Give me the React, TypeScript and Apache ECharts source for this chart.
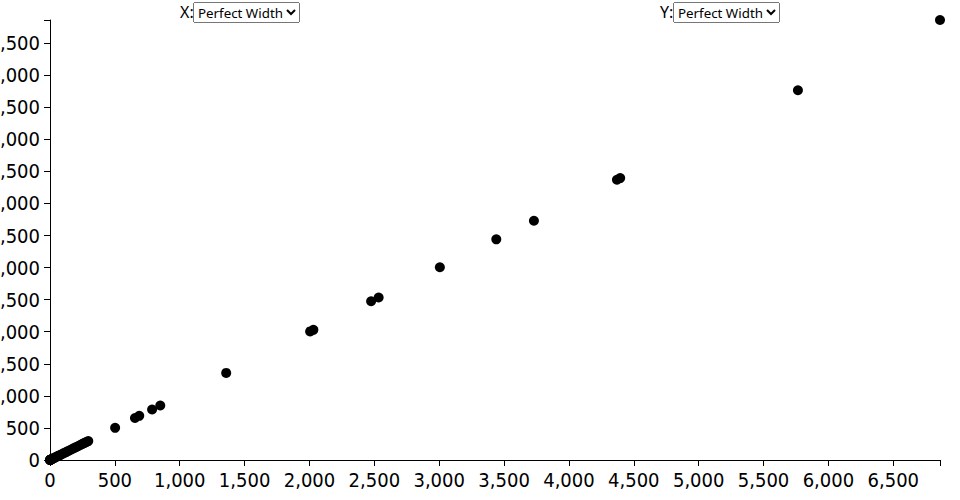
import React, { useEffect, useRef } from "react";
import * as echarts from "echarts";

// Field shown on both axes
const xField = "Perfect Width";
const yField = "Perfect Width";

// Values of "Perfect Width" per item
const perfectWidth = [
  0, 0, 1, 2, 3, 5, 7, 10, 14, 18, 23, 28, 35, 42, 50, 58, 67, 76, 86, 98,
  110, 124, 138, 152, 168, 184, 200, 215, 230, 245, 258, 270, 282, 295,
  502, 655, 688, 787, 850, 1358, 2005, 2030, 2475, 2533, 3005, 3440, 3730,
  4370, 4395, 5765, 6860,
];

const tickStep = 500;
const axisFont = "DejaVu Sans Condensed";

export default function App() {
  const ref = useRef<HTMLDivElement>(null);

  useEffect(() => {
    if (!ref.current) return;
    const chart = echarts.init(ref.current, null, { renderer: "svg" });
    const maxVal = Math.max(...perfectWidth);
    const fmt = (v: number) =>
      v % tickStep === 0 ? v.toLocaleString("en-US") : "";
    const axisCommon = {
      type: "value" as const,
      min: 0,
      max: maxVal,
      interval: tickStep,
      axisLine: { show: true, onZero: false, lineStyle: { color: "#000", width: 1 } },
      axisTick: { show: true, length: 6, lineStyle: { color: "#000", width: 1 } },
      splitLine: { show: false },
      axisLabel: {
        color: "#000",
        fontFamily: axisFont,
        fontSize: 20,
        margin: 10,
        formatter: fmt,
        showMinLabel: true,
        showMaxLabel: true,
        hideOverlap: false,
      },
    };
    chart.setOption({
      animation: false,
      grid: {
        left: 50,
        right: 20,
        top: 20,
        bottom: 40,
        containLabel: false,
        outerBoundsMode: "none",
      },
      xAxis: { ...axisCommon },
      yAxis: { ...axisCommon },
      series: [
        {
          type: "scatter",
          name: `${xField} / ${yField}`,
          symbol: "circle",
          symbolSize: 10,
          itemStyle: { color: "#000", opacity: 1 },
          data: perfectWidth.map((v) => [v, v]),
        },
      ],
    });
    return () => chart.dispose();
  }, []);

  const labelStyle: React.CSSProperties = {
    position: "absolute",
    top: 2,
    font: '16px "Noto Sans"',
    lineHeight: "21px",
    color: "#000",
  };
  const selectStyle: React.CSSProperties = {
    position: "absolute",
    top: 2,
    height: 21,
    font: '13.33px "Noto Sans"',
    padding: 0,
  };

  return (
    <>
      <div
        ref={ref}
        style={{ position: "absolute", left: 0, top: 0, width: 960, height: 500 }}
      />
      <span style={{ ...labelStyle, left: 180 }}>X:</span>
      <select style={{ ...selectStyle, left: 193 }} defaultValue={xField}>
        <option value={xField}>{xField}</option>
      </select>
      <span style={{ ...labelStyle, left: 660 }}>Y:</span>
      <select style={{ ...selectStyle, left: 673 }} defaultValue={yField}>
        <option value={yField}>{yField}</option>
      </select>
    </>
  );
}
